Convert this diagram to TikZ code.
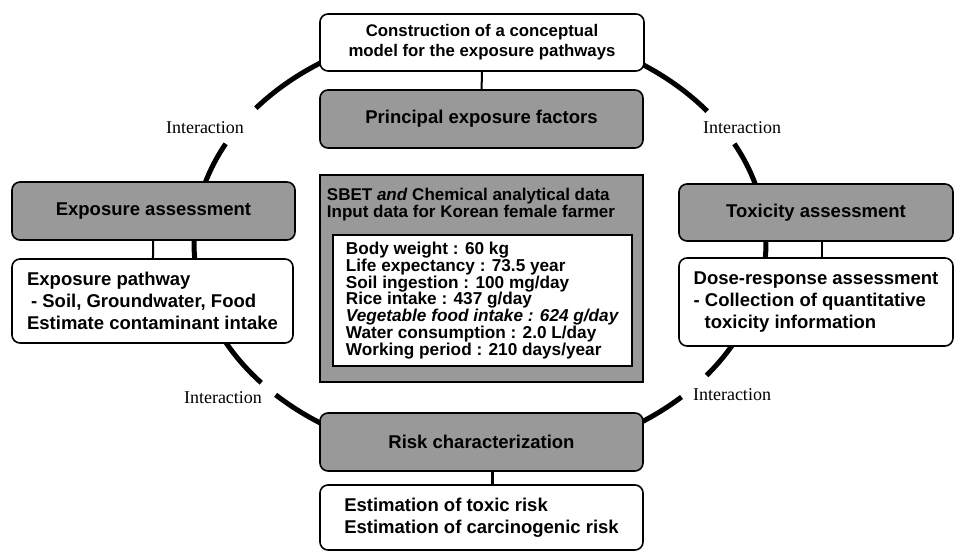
\documentclass[tikz,border=0pt]{standalone}
\usepackage{fontspec}
\setmainfont{Liberation Sans}
\newfontfamily\timesfont{Liberation Serif}
\tikzset{
  ring/.style={line width=5pt},
  graybox/.style={draw,line width=1.6pt,rounded corners=8pt,fill=black!40,inner sep=0pt,
    font=\bfseries\fontsize{18.5}{20}\selectfont},
  whitebox/.style={draw,line width=1.6pt,rounded corners=8pt,fill=white,inner sep=0pt,
    align=left,font=\bfseries\fontsize{18.5}{22}\selectfont},
  interlabel/.style={font=\timesfont\fontsize{18}{20}\selectfont},
  link/.style={line width=2pt},
}
\begin{document}
\begin{tikzpicture}[x=1pt,y=1pt]
\useasboundingbox (0,0) rectangle (955,553);
\coordinate (ctr) at (480,310);
% the interaction ring
\foreach \a/\b in {37.4/141.6,152.8/220.1,224.4/314.8,322.4/387.2}
  \draw[ring] (ctr) ++(\a:286 and 217) arc[start angle=\a,end angle=\b,x radius=286,y radius=217];

\node[whitebox,align=center,font=\bfseries\fontsize{16.8}{20}\selectfont,minimum width=324pt,minimum height=57pt] (model) at (482,510.5) {Construction of a conceptual\\model for the exposure pathways};
\node[graybox,minimum width=323pt,minimum height=58pt] (factors) at (481.5,434) {Principal exposure factors};

% input data
\node[graybox,rounded corners=0pt,minimum width=323pt,minimum height=207pt] (data) at (481.5,274.5) {};
\node[font=\bfseries\fontsize{17}{14.5}\selectfont,align=left] (datahead) at (471,348) {SBET \textit{and} Chemical analytical data\\Input data for Korean female farmer};
\node[draw,line width=1.6pt,fill=white,minimum width=299pt,minimum height=131pt,align=left,
  font=\bfseries\fontsize{17.2}{16.7}\selectfont] (datalist) at (482.5,252.5)
  {Body weight : 60 kg\\Life expectancy : 73.5 year\\Soil ingestion : 100 mg/day\\Rice intake : 437 g/day\\
   \textit{Vegetable food intake : 624 g/day}\\Water consumption : 2.0 L/day\\Working period : 210 days/year};

\node[graybox,minimum width=283pt,minimum height=58pt] (expo) at (153.5,342) {Exposure assessment};
\node[whitebox,minimum width=281pt,minimum height=84pt] (expoout) at (152.5,252) {Exposure pathway\\\hspace*{4pt}- Soil, Groundwater, Food\\Estimate contaminant intake};

\node[graybox,minimum width=274pt,minimum height=57pt] (toxic) at (816,340.5) {Toxicity assessment};
\node[whitebox,minimum width=274pt,minimum height=88pt] (toxicout) at (816,251) {Dose-response assessment\\- Collection of quantitative\\\hspace*{11pt}toxicity information};

\node[graybox,minimum width=323pt,minimum height=58pt] (risk) at (481.5,111) {Risk characterization};
\node[whitebox,minimum width=323pt,minimum height=65pt] (riskout) at (481.5,35.5) {Estimation of toxic risk\\Estimation of carcinogenic risk};

\draw[link] (model) -- (factors);
\draw[link] (expo) -- (expoout);
\draw[link] ([xshift=6pt]toxic.south) -- ([xshift=6pt]toxicout.north);
\draw[link,line width=3pt] ([xshift=11pt]risk.south) -- ([xshift=11pt]riskout.north);

\node[interlabel] (intA) at (205,425) {Interaction};
\node[interlabel] (intB) at (742,425) {Interaction};
\node[interlabel] (intC) at (223,155) {Interaction};
\node[interlabel] (intD) at (732,158) {Interaction};
\end{tikzpicture}
\end{document}
